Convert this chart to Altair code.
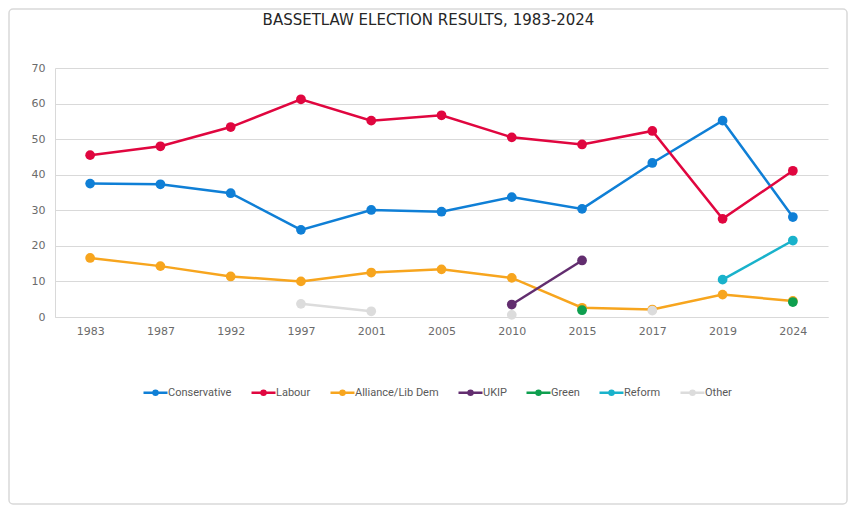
import altair as alt
import pandas as pd

years = ["1983", "1987", "1992", "1997", "2001", "2005", "2010", "2015", "2017", "2019", "2024"]
parties = ["Conservative", "Labour", "Alliance/Lib Dem", "UKIP", "Green", "Reform", "Other"]
colors = ["#0F7FD6", "#E0063F", "#F7A51E", "#622D6F", "#0E9F4F", "#19B2CB", "#DCDCDC"]

conservative = [37.5, 37.3, 34.8, 24.5, 30.1, 29.6, 33.7, 30.4, 43.3, 55.2, 28.1]
labour = [45.5, 48.0, 53.4, 61.2, 55.2, 56.7, 50.5, 48.5, 52.3, 27.6, 41.1]
libdem = [16.6, 14.3, 11.4, 10.0, 12.5, 13.4, 11.0, 2.6, 2.1, 6.3, 4.5]
ukip = [None, None, None, None, None, None, 3.5, 15.9, None, None, None]
green = [None, None, None, None, None, None, None, 1.9, None, None, 4.2]
reform = [None, None, None, None, None, None, None, None, None, 10.5, 21.5]
other = [None, None, None, 3.7, 1.6, None, 0.6, None, 1.8, None, None]

series = [conservative, labour, libdem, ukip, green, reform, other]
rows = []
for party, vals in zip(parties, series):
    for yr, v in zip(years, vals):
        rows.append({"year": yr, "party": party, "share": v})
df = pd.DataFrame(rows)

# legend glyph: short line with a dot in the middle
legend_glyph = "M-1.5,0L1.5,0M-0.25,0a0.25,0.25 0 1,0 0.5,0a0.25,0.25 0 1,0 -0.5,0"

x = alt.X("year:O", sort=years, title=None,
          axis=alt.Axis(labelAngle=0, ticks=False, domain=True, domainColor="#D9D9D9",
                        labelFont="DejaVu Sans", labelFontSize=11, labelColor="#6B6B6B",
                        labelPadding=8))
y = alt.Y("share:Q", title=None,
          scale=alt.Scale(domain=[0, 70]),
          axis=alt.Axis(values=[0, 10, 20, 30, 40, 50, 60, 70], ticks=False, domain=True,
                        domainColor="#D9D9D9", gridColor="#D9D9D9", gridWidth=1.2,
                        labelFont="DejaVu Sans", labelFontSize=11, labelColor="#6B6B6B",
                        labelPadding=10))
color = alt.Color("party:N",
                  scale=alt.Scale(domain=parties, range=colors),
                  legend=alt.Legend(title=None, orient="none", direction="horizontal",
                                    legendX=91, legendY=315,
                                    symbolType=legend_glyph, symbolSize=256,
                                    symbolStrokeWidth=2.5, symbolOffset=0,
                                    labelFont="Roboto", labelFontSize=11,
                                    labelColor="#595959", labelOffset=3,
                                    columnPadding=14))

lines = alt.Chart(df).mark_line(strokeWidth=2.5, invalid="break-paths-show-domains").encode(
    x=x, y=y, color=color
)
points = alt.Chart(df).mark_circle(size=95, opacity=1).encode(
    x=x, y=y, color=color
)

# outer border of the chart
frame = alt.Chart(alt.Data(values=[{}])).mark_rect(
    fill="transparent", stroke="#D9D9D9", strokeWidth=1.5, cornerRadius=4
).encode(
    x=alt.value(-46), x2=alt.value(792), y=alt.value(-59), y2=alt.value(436)
)

chart = alt.layer(frame, lines, points).properties(
    width=773,
    height=249,
    padding={"left": 47, "top": 60, "right": 20, "bottom": 189},
    autosize=alt.AutoSizeParams(type="none"),
    title=alt.Title("BASSETLAW ELECTION RESULTS, 1983-2024", fontSize=15,
                    font="DejaVu Sans", fontWeight="normal", color="#262626",
                    anchor="middle", frame="group", baseline="alphabetic",
                    dx=-13, offset=-32)
).configure_view(stroke=None)

chart.save("out.html", embed_options={"renderer": "svg", "actions": False})
